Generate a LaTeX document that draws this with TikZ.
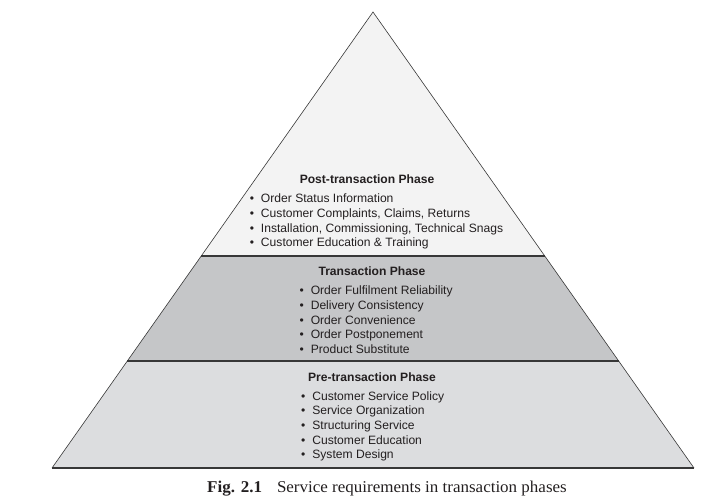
\documentclass[tikz,border=0pt]{standalone}
\usepackage{fontspec}
\setmainfont{Liberation Serif}
\setsansfont{Liberation Sans}
\newfontfamily\capfont[FakeStretch=1.03]{Liberation Serif}
\usetikzlibrary{positioning, calc}
\definecolor{PostGrey}{RGB}{243, 243, 243}
\definecolor{TransGrey}{RGB}{197, 198, 200}
\definecolor{PreGrey}{RGB}{220, 221, 223}
\definecolor{EdgeDark}{RGB}{55, 55, 55}
\definecolor{TextDark}{RGB}{35, 31, 32}
\newcommand{\bul}{\textbullet\hspace{7pt}}

\begin{document}
\begin{tikzpicture}[x=1pt, y=-1pt, inner sep=0pt, text=TextDark,
    phasetitle/.style={font=\sffamily\bfseries\fontsize{12.1}{14.7}\selectfont},
    phaselist/.style={font=\sffamily\fontsize{12.1}{14.7}\selectfont, align=left, anchor=north west}]
    \useasboundingbox (0,0) rectangle (702,498);
    % pyramid corners and tier borders
    \coordinate (apex) at (373,12);
    \coordinate (bl) at (52,468);
    \coordinate (br) at (694,468);
    \coordinate (ul) at ($(apex)!0.535!(bl)$);
    \coordinate (ur) at ($(apex)!0.535!(br)$);
    \coordinate (ll) at ($(apex)!0.765!(bl)$);
    \coordinate (lr) at ($(apex)!0.765!(br)$);
    \fill[PreGrey] (ll) -- (lr) -- (br) -- (bl) -- cycle;
    \fill[TransGrey] (ul) -- (ur) -- (lr) -- (ll) -- cycle;
    \fill[PostGrey] (apex) -- (ur) -- (ul) -- cycle;
    \draw[EdgeDark, line width=0.6pt] (bl) -- (apex) -- (br);
    \draw[EdgeDark, line width=1.4pt] (ul) -- (ur) (ll) -- (lr) (bl) -- (br);
    % post-transaction
    \node[phasetitle] (posttitle) at (367,179) {Post-transaction Phase};
    \node[phaselist, below=10pt of posttitle.south west, anchor=north west, xshift=-50pt] (postlist) {\bul Order Status Information\\ \bul Customer Complaints, Claims, Returns\\ \bul Installation, Commissioning, Technical Snags\\ \bul Customer Education \& Training};
    % transaction
    \node[phasetitle] (transtitle) at (372,271) {Transaction Phase};
    \node[phaselist, below=10pt of transtitle.south west, anchor=north west, xshift=-19pt] (translist) {\bul Order Fulfilment Reliability\\ \bul Delivery Consistency\\ \bul Order Convenience\\ \bul Order Postponement\\ \bul Product Substitute};
    % pre-transaction
    \node[phasetitle] (pretitle) at (372,377) {Pre-transaction Phase};
    \node[phaselist, below=9.5pt of pretitle.south west, anchor=north west, xshift=-7pt] (prelist) {\bul Customer Service Policy\\ \bul Service Organization\\ \bul Structuring Service\\ \bul Customer Education\\ \bul System Design};
    % caption
    \node[font=\capfont\fontsize{16.5}{18}\selectfont, anchor=base] (caption) at (387,492) {\textbf{Fig. 2.1}\hspace{15pt}Service requirements in transaction phases};
\end{tikzpicture}
\end{document}
